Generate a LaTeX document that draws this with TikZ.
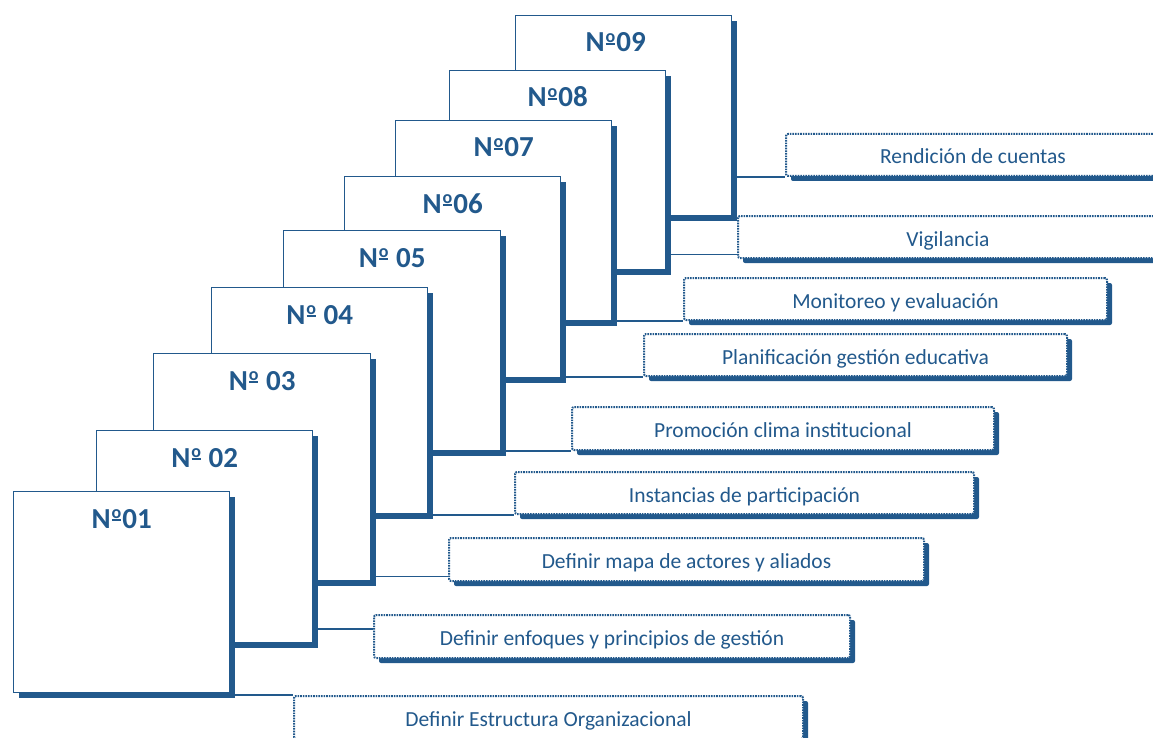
\documentclass[tikz,border=0pt]{standalone}
\usepackage{fontspec}
\setmainfont{Carlito}
\usetikzlibrary{calc,shadows}
\definecolor{mblue}{RGB}{34,89,140}
\newcommand\ordm{\makebox[0.40em][c]{\raisebox{0.33em}{\fontsize{18}{18}\selectfont o}}\llap{\rule[0.24em]{0.32em}{0.065em}\kern0.04em}}
\begin{document}
\begin{tikzpicture}[x=1pt,y=-1pt,
  numbox/.style={draw=mblue, line width=1.4pt, fill=white, inner sep=0pt, anchor=north west,
    general shadow={fill=mblue, shadow xshift=5pt, shadow yshift=-5pt}},
  numtxt/.style={anchor=base, text=mblue, inner sep=0pt, font=\bfseries\fontsize{29}{31}\selectfont},
  lab/.style={draw=mblue, line width=2pt, dash pattern=on 1.6pt off 1pt, rounded corners=2pt,
    fill=white, inner sep=0pt, anchor=north west, text=mblue, font=\fontsize{21.5}{25}\selectfont,
    text height=19pt, text depth=1pt,
    general shadow={fill=mblue, shadow xshift=5pt, shadow yshift=-5pt}},
  conn/.style={draw=mblue, line width=1.3pt}]
\useasboundingbox (0,0) rectangle (1153,738);
\clip (0,0) rectangle (1153,738);
% numbered boxes, back to front
\node[numbox, minimum width=216pt, minimum height=200pt] (b9) at (515,15) {};
\node[numtxt] (n9) at ($(b9.north)+(-8,37)$) {N\ordm09};
\node[numbox, minimum width=216pt, minimum height=199pt] (b8) at (449,70) {};
\node[numtxt] (n8) at ($(b8.north)+(0,37)$) {N\ordm08};
\node[numbox, minimum width=216pt, minimum height=200pt] (b7) at (395,120) {};
\node[numtxt] (n7) at ($(b7.north)+(0,37)$) {N\ordm07};
\node[numbox, minimum width=216pt, minimum height=201pt] (b6) at (344,176) {};
\node[numtxt] (n6) at ($(b6.north)+(0,37)$) {N\ordm06};
\node[numbox, minimum width=217pt, minimum height=220pt] (b5) at (283,230) {};
\node[numtxt] (n5) at ($(b5.north)+(0,37)$) {N\ordm\ 05};
\node[numbox, minimum width=216pt, minimum height=226pt] (b4) at (211,287) {};
\node[numtxt] (n4) at ($(b4.north)+(0,37)$) {N\ordm\ 04};
\node[numbox, minimum width=217pt, minimum height=227pt] (b3) at (153,353) {};
\node[numtxt] (n3) at ($(b3.north)+(0,37)$) {N\ordm\ 03};
\node[numbox, minimum width=216pt, minimum height=212pt] (b2) at (96,430) {};
\node[numtxt] (n2) at ($(b2.north)+(0,37)$) {N\ordm\ 02};
\node[numbox, minimum width=216pt, minimum height=201pt] (b1) at (13,491) {};
\node[numtxt] (n1) at ($(b1.north)+(0,37)$) {N\ordm01};
% labels
\node[lab, minimum width=374pt, minimum height=42pt] (l9) at (785,133) {Rendición de cuentas};
\node[lab, minimum width=420pt, minimum height=42pt] (l8) at (737,215) {Vigilancia};
\node[lab, minimum width=423pt, minimum height=42pt] (l7) at (683,277) {Monitoreo y evaluación};
\node[lab, minimum width=423pt, minimum height=42pt] (l6) at (643,333) {Planificación gestión educativa};
\node[lab, minimum width=422pt, minimum height=43pt] (l5) at (571,406) {Promoción clima institucional};
\node[lab, minimum width=459pt, minimum height=42pt] (l4) at (514,471) {Instancias de participación};
\node[lab, minimum width=475pt, minimum height=43pt] (l3) at (448,537) {Definir mapa de actores y aliados};
\node[lab, minimum width=476pt, minimum height=43pt] (l2) at (373,614) {Definir enfoques y principios de gestión};
\node[lab, minimum width=509pt, minimum height=43pt] (l1) at (293,695) {Definir Estructura Organizacional};
% connectors
\coordinate (c9) at (l9.south west);
\coordinate (c8) at ($(l8.north west)!0.9!(l8.south west)$);
\coordinate (c7) at (l7.south west);
\coordinate (c6) at (l6.south west);
\coordinate (c5) at (l5.south west);
\coordinate (c4) at (l4.south west);
\coordinate (c3) at ($(l3.north west)!0.88!(l3.south west)$);
\coordinate (c2) at ($(l2.north west)!0.33!(l2.south west)$);
\coordinate (c1) at (l1.north west);
\foreach \i in {1,...,9}{
  \draw[conn] (c\i -| b\i.east) -- (c\i);
}
\end{tikzpicture}
\end{document}
